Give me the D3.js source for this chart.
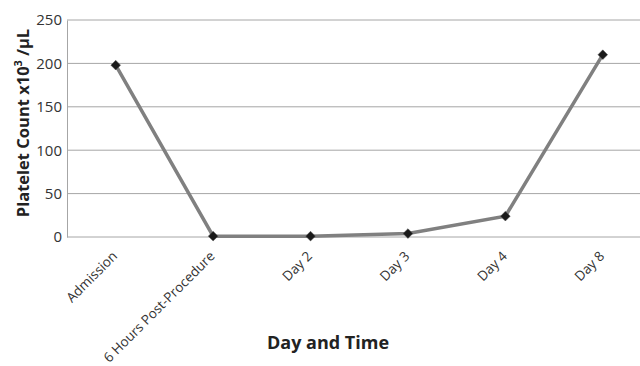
<!DOCTYPE html>
<html><head><meta charset="utf-8">
<script src="https://cdn.jsdelivr.net/npm/d3@7"></script>
<style>body{margin:0;background:#fff}svg{display:block}</style>
</head><body>
<script>
const categories = ["Admission","6 Hours Post-Procedure","Day 2","Day 3","Day 4","Day 8"];
const platelets = [198, 1, 1, 4, 24, 210];
const yTicks = [0,50,100,150,200,250];

const W=640,H=366;
const m={left:67,top:20,bottom:129};
const plotW=584.5;
const svg=d3.select("body").append("svg").attr("width",W).attr("height",H);
const x=d3.scalePoint().domain(categories).range([m.left,m.left+plotW]).padding(0.5);
const y=d3.scaleLinear().domain([0,250]).range([H-m.bottom,m.top]);
const font="'Open Sans', sans-serif";

// gridlines
svg.append("g").selectAll("line").data(yTicks).join("line")
 .attr("x1",m.left).attr("x2",m.left+plotW).attr("y1",d=>y(d)).attr("y2",d=>y(d))
 .attr("stroke","#a6a6a6").attr("stroke-width",1);
// y axis
const ya=svg.append("g").attr("transform",`translate(${m.left},0)`)
 .call(d3.axisLeft(y).tickValues(yTicks).tickSize(0).tickPadding(5));
ya.select(".domain").attr("stroke","#a6a6a6");
ya.selectAll("text").attr("font-family",font).attr("font-size",15).attr("fill","#333");

// x axis labels
const xa=svg.append("g").attr("transform",`translate(0,${y(0)})`)
 .call(d3.axisBottom(x).tickSize(0).tickFormat(d=>d));
xa.select(".domain").remove();
xa.selectAll("text").attr("font-family",font).attr("font-size",13.5).attr("fill","#333")
 .attr("text-anchor","end").attr("dy",0).attr("y",0)
 .attr("transform","translate(2,20) rotate(-45)");

// line
svg.append("path").datum(platelets)
 .attr("d",d3.line().x((d,i)=>x(categories[i])).y(d=>y(d)))
 .attr("fill","none").attr("stroke","#808080").attr("stroke-width",3.5);
svg.append("g").selectAll("path").data(platelets).join("path")
 .attr("d",d3.symbol(d3.symbolDiamond2,60))
 .attr("transform",(d,i)=>`translate(${x(categories[i])},${y(d)})`)
 .attr("fill","#1a1a1a").attr("stroke","#555").attr("stroke-width",0.5);

// titles
svg.append("text").attr("x",328).attr("y",349).attr("text-anchor","middle")
 .attr("font-family",font).attr("font-weight","bold").attr("font-size",18).attr("fill","#222")
 .text("Day and Time");
const yt=svg.append("text").attr("transform","translate(29,123) rotate(-90)").attr("text-anchor","middle")
 .attr("font-family",font).attr("font-weight","bold").attr("font-size",16.5).attr("fill","#222");
yt.append("tspan").text("Platelet Count x10");
yt.append("tspan").attr("font-size",11).attr("dy",-7).text("3");
yt.append("tspan").attr("dy",7).text(" /µL");
</script>
</body></html>
